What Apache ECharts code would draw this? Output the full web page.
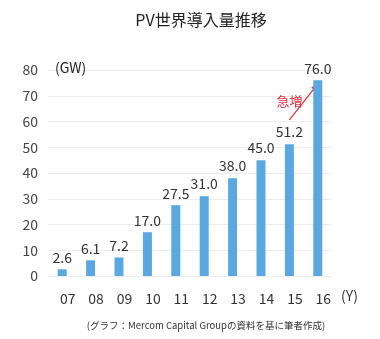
<!DOCTYPE html>
<html><head><meta charset="utf-8">
<script src="https://cdn.jsdelivr.net/npm/echarts@6/dist/echarts.min.js"></script>
<style>html,body{margin:0;padding:0;background:#fff}#c{width:380px;height:339px}</style>
</head><body><div id="c"></div>
<script>
const categories = ['07','08','09','10','11','12','13','14','15','16'];
const values = [2.6, 6.1, 7.2, 17.0, 27.5, 31.0, 38.0, 45.0, 51.2, 76.0];
const yTicks = [0,10,20,30,40,50,60,70,80];
const titleText = 'PV世界導入量推移';
const yUnit = '(GW)';
const xUnit = '(Y)';
const noteText = '(グラフ：Mercom Capital Groupの資料を基に筆者作成)';
const annotText = '急増';

const FONT = '"Noto Sans CJK JP", "Noto Sans", sans-serif';
const chart = echarts.init(document.getElementById('c'), null, {renderer:'canvas'});
chart.setOption({
  animation:false,
  textStyle:{fontFamily:FONT},
  grid:{left:48,right:48,top:70,bottom:63},
  xAxis:{type:'category',data:categories,
    axisLine:{show:false},axisTick:{show:false},
    axisLabel:{color:'#333',fontSize:14,margin:16,padding:[0,0,0,11],fontFamily:FONT}},
  yAxis:{type:'value',min:yTicks[0],max:yTicks[yTicks.length-1],interval:10,
    axisLine:{show:false},axisTick:{show:false},
    splitLine:{lineStyle:{color:'#ececec',width:1}},
    axisLabel:{color:'#444',fontSize:14,margin:10,fontFamily:FONT}},
  series:[{type:'bar',data:values,barWidth:9,
    itemStyle:{color:'#5aa8df'},
    label:{show:true,position:'top',distance:5,color:'#333',fontSize:14,fontFamily:FONT,
      formatter:p=>p.value.toFixed(1)}}]
});
function place(){
  const a = chart.convertToPixel({gridIndex:0},[8.26,60.6]);
  const b = chart.convertToPixel({gridIndex:0},[8.79,74.6]);
  const t = chart.convertToPixel({gridIndex:0},[7.84,67.8]);
  const top80 = chart.convertToPixel({gridIndex:0},[0,80]);
  const end = chart.convertToPixel({gridIndex:0},[9,0]);
  chart.setOption({graphic:[
    {type:'text',x:201,y:20,style:{text:titleText,fill:'#222',font:'16px '+FONT,align:'center',verticalAlign:'middle'}},
    {type:'text',left:55,top:top80[1]-9,style:{text:yUnit,fill:'#222',font:'14px '+FONT}},
    {type:'text',left:341,top:end[1]+13,style:{text:xUnit,fill:'#333',font:'14px '+FONT}},
    {type:'text',x:206,y:325,style:{text:noteText,fill:'#333',font:'9.5px '+FONT,align:'center',verticalAlign:'middle'}},
    {type:'text',x:t[0],y:t[1],style:{text:annotText,fill:'#e0303a',font:'13px '+FONT,align:'center',verticalAlign:'middle'}},
    {type:'line',shape:{x1:a[0],y1:a[1],x2:b[0],y2:b[1]},style:{stroke:'#e0303a',lineWidth:1.2}},
    {type:'polygon',shape:{points:(function(){
      const dx=b[0]-a[0],dy=b[1]-a[1],L=Math.hypot(dx,dy),ux=dx/L,uy=dy/L;
      const bx=b[0]-ux*7,by=b[1]-uy*7;
      return [[b[0],b[1]],[bx-uy*3,by+ux*3],[bx+uy*3,by-ux*3]];})()},
      style:{fill:'#e0303a'}}
  ]});
}
place();
</script></body></html>
